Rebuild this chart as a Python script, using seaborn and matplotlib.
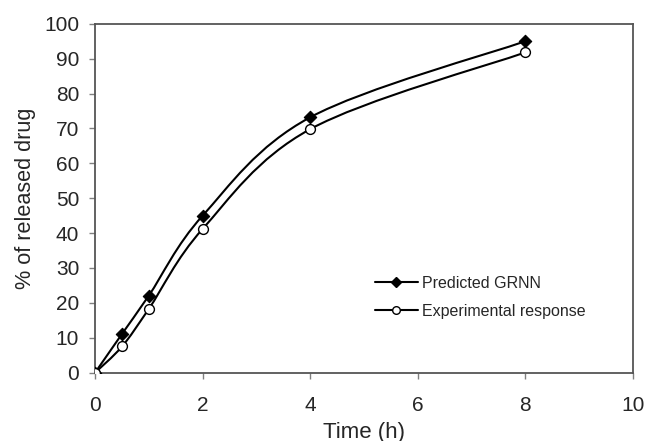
import numpy as np
import pandas as pd
import matplotlib
matplotlib.use("Agg")
import matplotlib.pyplot as plt
import seaborn as sns
from matplotlib.path import Path
from matplotlib.patches import PathPatch
from matplotlib.lines import Line2D

# values
time_h = [0, 0.5, 1, 2, 4, 8]
predicted_grnn = [0, 11.1, 22.1, 45.0, 73.2, 95.0]
experimental = [0, 7.5, 18.3, 41.2, 69.8, 91.8]
series_names = ["Predicted GRNN", "Experimental response"]


def smooth_path(xs, ys):
    # spreadsheet-style smoothed line: cubic Bezier through the points
    pts = np.column_stack([xs, ys]).astype(float)
    n = len(pts)
    verts, codes = [pts[0]], [Path.MOVETO]
    for i in range(n - 1):
        p0 = pts[i - 1] if i > 0 else pts[i]
        p1, p2 = pts[i], pts[i + 1]
        p3 = pts[i + 2] if i + 2 < n else pts[i + 1]
        verts += [p1 + (p2 - p0) / 6, p2 - (p3 - p1) / 6, p2]
        codes += [Path.CURVE4] * 3
    return Path(verts, codes)


sns.set_style("ticks")
plt.rcParams["font.family"] = ["Liberation Sans", "DejaVu Sans"]

df = pd.DataFrame({
    "time": time_h * 2,
    "release": predicted_grnn + experimental,
    "series": [series_names[0]] * len(time_h) + [series_names[1]] * len(time_h),
})

fig = plt.figure(figsize=(6.47, 4.41), dpi=100)
ax = fig.add_axes([0.147, 0.155, 0.831, 0.791])

for vals in (predicted_grnn, experimental):
    ax.add_patch(PathPatch(smooth_path(time_h, vals), fill=False,
                           edgecolor="black", lw=1.5, zorder=2))

sns.scatterplot(data=df[df.series == series_names[0]], x="time", y="release",
                marker="D", s=40, color="black", edgecolor="black",
                linewidth=0.8, ax=ax, zorder=3, legend=False)
sns.scatterplot(data=df[df.series == series_names[1]], x="time", y="release",
                marker="o", s=50, color="white", edgecolor="black",
                linewidth=1.0, ax=ax, zorder=3, legend=False)

ax.set_xlim(0, 10)
ax.set_ylim(0, 100)
ax.set_xticks(range(0, 11, 2))
ax.set_yticks(range(0, 101, 10))
ax.tick_params(axis="both", labelsize=15, length=4.5, width=1,
               color="#808080", direction="out")
ax.tick_params(axis="y", pad=7)
ax.tick_params(axis="x", pad=12)
for sp in ax.spines.values():
    sp.set_visible(True)
    sp.set_color("#555555")
    sp.set_linewidth(1.3)

ax.set_xlabel("Time (h)", fontsize=16, labelpad=5)
ax.set_ylabel("% of released drug", fontsize=15.6, labelpad=6)

handles = [
    Line2D([], [], color="black", lw=1.5, marker="D", markersize=5,
           markerfacecolor="black"),
    Line2D([], [], color="black", lw=1.5, marker="o", markersize=5.5,
           markerfacecolor="white"),
]
ax.legend(handles, series_names, loc="upper left",
          bbox_to_anchor=(0.505, 0.30), frameon=False, fontsize=11.5,
          borderpad=0, handlelength=2.7, handletextpad=0.25,
          labelspacing=0.8)

fig.savefig("out.png", dpi=100)
